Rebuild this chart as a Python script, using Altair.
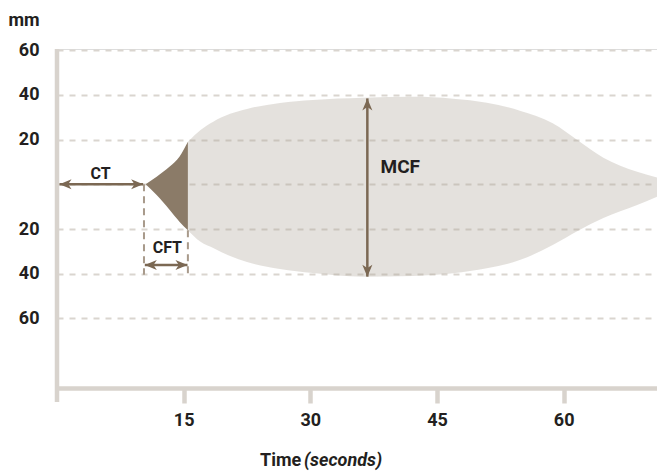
import altair as alt
import pandas as pd

# ---- data ----
# light grey clot trace (after CFT)
light_t = [15.5, 17.0, 18.5, 20.5, 22.5, 26.4, 30.3, 36.2, 42.1, 46.9, 50.9, 54.8, 58.7, 61.7, 64.7, 68.7, 72.0]
light_top = [19.0, 24.3, 28.0, 31.5, 33.7, 36.4, 37.7, 38.7, 39.1, 38.3, 36.5, 32.9, 27.3, 19.6, 11.9, 5.6, 2.2]
light_bottom = [-20.5, -25.7, -28.5, -32.1, -34.8, -37.9, -39.7, -41.3, -41.0, -39.8, -37.6, -33.9, -27.2, -20.8, -15.1, -9.3, -4.0]

# dark brown clot formation part (CFT)
dark_t = [10.5, 11.8, 13.35, 14.5, 15.5]
dark_top = [0.0, 3.4, 7.9, 12.3, 19.0]
dark_bottom = [0.0, -4.8, -11.5, -16.7, -20.5]

# annotation arrows
arrow_names = ["CT", "CFT", "MCF"]
arrow_x1 = [0.3, 10.4, 36.75]
arrow_x2 = [10.2, 15.45, 36.75]
arrow_y1 = [0.0, -36.1, 38.4]
arrow_y2 = [0.0, -36.1, -41.3]

# annotation labels
label_text = ["CT", "CFT", "MCF"]
label_x = [5.15, 13.07, 40.65]
label_y = [2.2, -30.6, 5.2]

# dashed guide lines
guide_x = [10.3, 15.5]
guide_top = [0.0, -20.5]
guide_bottom = [-40.5, -40.5]

# axes
x_ticks = [15, 30, 45, 60]
y_ticks = [-60, -40, -20, 0, 20, 40, 60]
x_domain = [0, 71.05]
y_domain = [-91.1, 60.5]

# ---- styling ----
FONT = "Roboto"
TEXT = "#231f20"
AXIS = "#d8d3cd"
GRID = "#dad5cf"
ARROW = "#7b6853"
DARK = "#8b7b68"
LIGHT = "#b0a89c"
GUIDE = "#a89a8b"

X = alt.X(
    "x:Q",
    scale=alt.Scale(domain=x_domain, nice=False, zero=False),
    axis=alt.Axis(
        values=x_ticks, title=None, grid=False,
        domainColor=AXIS, domainWidth=4.5, domainCap="butt",
        tickColor=AXIS, tickWidth=4.5, tickSize=15,
        labelFont=FONT, labelFontSize=18, labelFontWeight="bold", labelColor=TEXT,
        labelPadding=8, labelFlush=False,
    ),
)
Y = alt.Y(
    "y:Q",
    scale=alt.Scale(domain=y_domain, nice=False, zero=False),
    axis=alt.Axis(
        values=y_ticks, domain=False, ticks=False,
        grid=True, gridColor=GRID, gridWidth=2, gridDash=[6, 6],
        labelExpr="datum.value == 0 ? '' : format(abs(datum.value), 'd')",
        labelFont=FONT, labelFontSize=18, labelFontWeight="bold", labelColor=TEXT,
        labelPadding=18, labelBaseline="middle",
        title="mm", titleAngle=0, titleX=-49, titleY=-24, titleAlign="left",
        titleBaseline="alphabetic", titleFont=FONT, titleFontSize=18,
        titleFontWeight="bold", titleColor=TEXT,
    ),
)

light_df = pd.DataFrame({"x": light_t, "y": light_top, "y2": light_bottom})
dark_df = pd.DataFrame({"x": dark_t, "y": dark_top, "y2": dark_bottom})

light = alt.Chart(light_df).mark_area(
    color=LIGHT, opacity=0.343, interpolate="monotone"
).encode(x=X, y=Y, y2="y2:Q")

dark = alt.Chart(dark_df).mark_area(
    color=DARK, opacity=1, interpolate="monotone"
).encode(x=X, y=Y, y2="y2:Q")

axis_df = pd.DataFrame({"x": [0.0], "y": [60.5], "y2": [-97.4]})
yaxis_line = alt.Chart(axis_df).mark_rule(
    color=AXIS, strokeWidth=4.5, strokeCap="butt"
).encode(x=X, y=Y, y2="y2:Q")

guide_df = pd.DataFrame({"x": guide_x, "y": guide_top, "y2": guide_bottom})
guides = alt.Chart(guide_df).mark_rule(
    color=GUIDE, strokeWidth=2, strokeDash=[7, 5]
).encode(x=X, y=Y, y2="y2:Q")

arrow_df = pd.DataFrame({"name": arrow_names, "x": arrow_x1, "x2": arrow_x2,
                         "y": arrow_y1, "y2": arrow_y2})
arrow_lines = alt.Chart(arrow_df).mark_rule(
    color=ARROW, strokeWidth=2.5
).encode(x=X, x2="x2:Q", y=Y, y2="y2:Q")

heads = []
for x1, x2, y1, y2 in zip(arrow_x1, arrow_x2, arrow_y1, arrow_y2):
    if y1 == y2:  # horizontal
        heads.append({"x": x1, "y": y1, "angle": 180 if x2 > x1 else 0})
        heads.append({"x": x2, "y": y2, "angle": 0 if x2 > x1 else 180})
    else:  # vertical (screen y grows downwards)
        heads.append({"x": x1, "y": y1, "angle": 270 if y1 > y2 else 90})
        heads.append({"x": x2, "y": y2, "angle": 90 if y1 > y2 else 270})
heads_df = pd.DataFrame(heads)
ARROW_SHAPE = "M0,0L-1,-0.42L-0.72,0L-1,0.42Z"
arrow_heads = alt.Chart(heads_df).mark_point(
    shape=ARROW_SHAPE, filled=True, size=576, color=ARROW, opacity=1, strokeWidth=0
).encode(x=X, y=Y, angle=alt.Angle("angle:Q", scale=None))

label_df = pd.DataFrame({"text": label_text, "x": label_x, "y": label_y})
small_labels = alt.Chart(label_df).transform_filter(
    "datum.text != 'MCF'"
).mark_text(
    font=FONT, fontSize=16, fontWeight="bold", color=TEXT,
    align="center", baseline="alphabetic"
).encode(x=X, y=Y, text="text:N")
big_labels = alt.Chart(label_df).transform_filter(
    "datum.text == 'MCF'"
).mark_text(
    font=FONT, fontSize=19, fontWeight="bold", color=TEXT,
    align="center", baseline="alphabetic"
).encode(x=X, y=Y, text="text:N")

title_df = pd.DataFrame({"a": [1]})
title_main = alt.Chart(title_df).mark_text(
    text="Time", font=FONT, fontSize=18, fontWeight="bold", color=TEXT,
    align="left", baseline="alphabetic"
).encode(x=alt.value(203), y=alt.value(417))
title_unit = alt.Chart(title_df).mark_text(
    text="(seconds)", font=FONT, fontSize=18, fontWeight="bold", fontStyle="italic",
    color=TEXT, align="left", baseline="alphabetic"
).encode(x=alt.value(247), y=alt.value(417))

chart = alt.layer(
    light, dark, yaxis_line, guides, arrow_lines, arrow_heads,
    small_labels, big_labels, title_main, title_unit
).properties(
    width=600, height=339,
    padding={"left": 49, "top": 41, "right": 0, "bottom": 83},
    autosize=alt.AutoSizeParams(type="none"),
    background="white",
).configure_view(stroke=None).configure(font=FONT)

chart.save("out.html", embed_options={"renderer": "svg", "actions": False})
